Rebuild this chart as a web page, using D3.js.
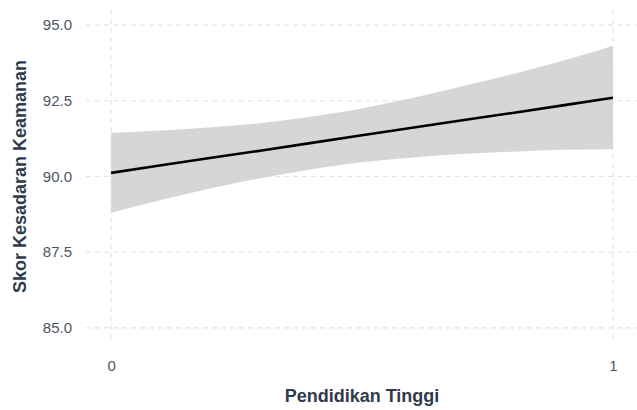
<!DOCTYPE html>
<html>
<head>
<meta charset="utf-8">
<script src="https://cdn.jsdelivr.net/npm/d3@7"></script>
<style>
  html, body { margin: 0; padding: 0; background: #ffffff; }
  svg { display: block; }
</style>
</head>
<body>
<svg id="chart" width="637" height="410"></svg>
<script>
// Data
const xValues = [0, 0.1, 0.2, 0.3, 0.4, 0.5, 0.6, 0.7, 0.8, 0.9, 1.0];
const fitValues = [90.12, 90.37, 90.62, 90.86, 91.11, 91.36, 91.61, 91.86, 92.10, 92.35, 92.60];
const upperValues = [91.44, 91.52, 91.63, 91.77, 91.98, 92.25, 92.59, 92.98, 93.38, 93.82, 94.32];
const lowerValues = [88.80, 89.22, 89.61, 89.95, 90.24, 90.47, 90.63, 90.74, 90.82, 90.88, 90.90];
const yTicks = [85, 87.5, 90, 92.5, 95];
const xTicks = [0, 1];
const xTitle = "Pendidikan Tinggi";
const yTitle = "Skor Kesadaran Keamanan";

const rows = xValues.map((x, i) => ({ x, fit: fitValues[i], lo: lowerValues[i], hi: upperValues[i] }));

const svg = d3.select("#chart");
const panel = { left: 86, right: 638, top: 10, bottom: 343 };

const x = d3.scaleLinear().domain([-0.05, 1.05]).range([panel.left, panel.right]);
const y = d3.scaleLinear().domain([84.5, 95.5]).range([panel.bottom, panel.top]);

const gridColor = "#e3e3e3";
const tickColor = "#4d5563";
const titleColor = "#2f3b4c";
const font = "'Liberation Sans', Arial, sans-serif";

// Grid lines (dashed)
svg.append("g").selectAll("line").data(yTicks).join("line")
  .attr("x1", panel.left).attr("x2", panel.right)
  .attr("y1", d => y(d)).attr("y2", d => y(d))
  .attr("stroke", gridColor).attr("stroke-width", 1.1)
  .attr("stroke-dasharray", "5,4");
svg.append("g").selectAll("line").data(xTicks).join("line")
  .attr("y1", panel.top).attr("y2", panel.bottom)
  .attr("x1", d => x(d)).attr("x2", d => x(d))
  .attr("stroke", gridColor).attr("stroke-width", 1.1)
  .attr("stroke-dasharray", "5,4");

// Confidence ribbon
const area = d3.area()
  .x(d => x(d.x)).y0(d => y(d.lo)).y1(d => y(d.hi))
  .curve(d3.curveMonotoneX);
svg.append("path").datum(rows)
  .attr("d", area)
  .attr("fill", "#d6d6d6");

// Fitted line
const line = d3.line().x(d => x(d.x)).y(d => y(d.fit));
svg.append("path").datum(rows)
  .attr("d", line)
  .attr("fill", "none")
  .attr("stroke", "#000000")
  .attr("stroke-width", 2.6);

// Axes (text only, like theme_minimal)
const yAxis = svg.append("g")
  .attr("transform", `translate(${panel.left - 14},0)`)
  .call(d3.axisLeft(y).tickValues(yTicks).tickFormat(d3.format(".1f")).tickSize(0).tickPadding(0));
yAxis.select(".domain").remove();
yAxis.selectAll("text")
  .attr("fill", tickColor).style("font-family", font).style("font-size", "15px");

const xAxis = svg.append("g")
  .attr("transform", `translate(0,${panel.bottom + 17})`)
  .call(d3.axisBottom(x).tickValues(xTicks).tickFormat(d3.format("d")).tickSize(0).tickPadding(0));
xAxis.select(".domain").remove();
xAxis.selectAll("text")
  .attr("fill", tickColor).style("font-family", font).style("font-size", "15px");

// Titles
svg.append("text")
  .attr("x", (panel.left + panel.right) / 2)
  .attr("y", 402)
  .attr("text-anchor", "middle")
  .attr("fill", titleColor)
  .style("font-family", font).style("font-size", "18px").style("font-weight", "bold")
  .text(xTitle);

svg.append("text")
  .attr("transform", `translate(26,${(panel.top + panel.bottom) / 2}) rotate(-90)`)
  .attr("text-anchor", "middle")
  .attr("fill", titleColor)
  .style("font-family", font).style("font-size", "18px").style("font-weight", "bold")
  .text(yTitle);
</script>
</body>
</html>
